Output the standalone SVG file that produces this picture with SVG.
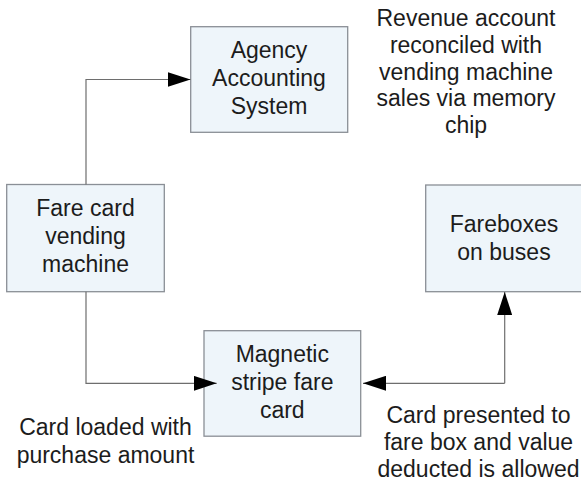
<svg xmlns="http://www.w3.org/2000/svg" width="581" height="484" viewBox="0 0 581 484">
<style>
.box{fill:#eef5fa;stroke:#8a8f96;stroke-width:1.3}
.t{font-family:"Liberation Sans",Arial,sans-serif;font-size:23px;fill:#1c1c1c;text-anchor:middle}
.c{fill:none;stroke:#6e6e6e;stroke-width:1.2}
</style>
<defs>
<marker id="ah" viewBox="0 0 23 15" refX="23" refY="7.5" markerWidth="23" markerHeight="15" markerUnits="userSpaceOnUse" orient="auto">
<path d="M0,0 L23,7.5 L0,15 z" fill="#000"/>
</marker>
</defs>
<rect width="581" height="484" fill="#fff"/>
<g id="agency">
<rect class="box" x="190.7" y="26.7" width="157" height="105.6"/>
<text class="t" x="269" y="58">Agency</text>
<text class="t" x="269" y="86">Accounting</text>
<text class="t" x="269" y="114">System</text>
</g>
<g id="revenue-note">
<text class="t" x="466" y="26">Revenue account</text>
<text class="t" x="466" y="53">reconciled with</text>
<text class="t" x="466" y="80">vending machine</text>
<text class="t" x="466" y="106">sales via memory</text>
<text class="t" x="466" y="133">chip</text>
</g>
<g id="vending">
<rect class="box" x="6.7" y="184.5" width="157.6" height="107.2"/>
<text class="t" x="85.5" y="216">Fare card</text>
<text class="t" x="85.5" y="244">vending</text>
<text class="t" x="85.5" y="272">machine</text>
</g>
<g id="fareboxes">
<rect class="box" x="425.7" y="185" width="157" height="106.7"/>
<text class="t" x="504" y="232">Fareboxes</text>
<text class="t" x="504" y="259.5">on buses</text>
</g>
<g id="magnetic">
<rect class="box" x="204" y="330.7" width="156.7" height="105.5"/>
<text class="t" x="282.3" y="362">Magnetic</text>
<text class="t" x="282.3" y="390">stripe fare</text>
<text class="t" x="282.3" y="418">card</text>
</g>
<g id="loaded-note">
<text class="t" x="105.5" y="435">Card loaded with</text>
<text class="t" x="105.5" y="463">purchase amount</text>
</g>
<g id="presented-note">
<text class="t" x="478.5" y="423">Card presented to</text>
<text class="t" x="478.5" y="450">fare box and value</text>
<text class="t" x="478.5" y="477">deducted is allowed</text>
</g>
<g id="connectors">
<path class="c" d="M86,184.5 V79.5 H190.5" marker-end="url(#ah)"/>
<path class="c" d="M86,291.7 V383.3 H216.7" marker-end="url(#ah)"/>
<path class="c" d="M504.7,383.3 H363" marker-end="url(#ah)"/>
<path class="c" d="M504.7,383.3 V292" marker-end="url(#ah)"/>
</g>
</svg>
